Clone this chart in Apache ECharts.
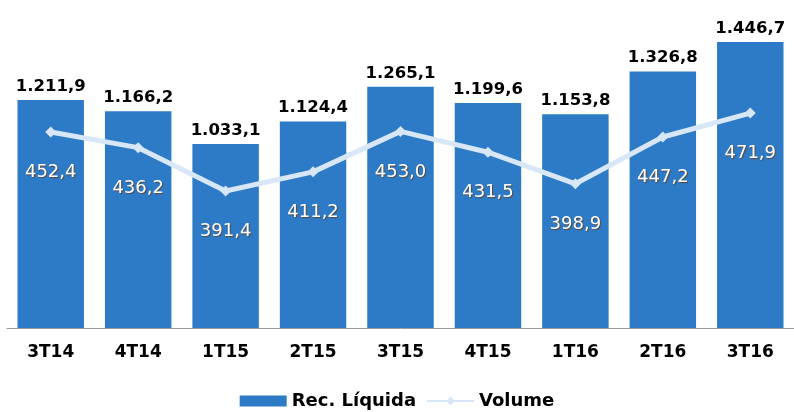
<!DOCTYPE html>
<html>
<head>
<meta charset="utf-8">
<script src="https://cdn.jsdelivr.net/npm/echarts@6/dist/echarts.min.js"></script>
<style>
  html, body { margin: 0; padding: 0; background: #fff; }
  #chart { width: 794px; height: 412px; }
</style>
</head>
<body>
<div id="chart"></div>
<script>
// trimestres
const quarters = ['3T14', '4T14', '1T15', '2T15', '3T15', '4T15', '1T16', '2T16', '3T16']
// Rec. Líquida (barras)
const recLiquida = [1211.9, 1166.2, 1033.1, 1124.4, 1265.1, 1199.6, 1153.8, 1326.8, 1446.7]
// Volume (linha, eixo secundario)
const volume = [452.4, 436.2, 391.4, 411.2, 453.0, 431.5, 398.9, 447.2, 471.9]

// formato pt-BR: 1.211,9
function fmtBR(v) {
  let parts = v.toFixed(1).split('.')
  let inteiro = parts[0].replace(/\B(?=(\d{3})+(?!\d))/g, '.')
  return inteiro + ',' + parts[1]
}

let myChart = echarts.init(document.getElementById('chart'))
let option = {
  backgroundColor: '#fff',
  animation: false,
  grid: {
    left: 7,
    right: -5,
    top: 20,
    bottom: 84
  },
  legend: {
    bottom: -3,
    left: 'center',
    itemGap: 10,
    itemWidth: 47,
    itemHeight: 11,
    textStyle: {
      fontFamily: 'DejaVu Sans',
      fontWeight: 'bold',
      fontSize: 18,
      color: '#000'
    },
    data: [
      { name: 'Rec. Líquida', icon: 'rect' },
      { name: 'Volume' }
    ]
  },
  xAxis: {
    type: 'category',
    data: quarters,
    axisLine: { lineStyle: { color: '#9a9a9a', width: 1 } },
    axisTick: { show: false },
    axisLabel: {
      margin: 16,
      fontFamily: 'DejaVu Sans',
      fontWeight: 'bold',
      fontSize: 17,
      color: '#000'
    }
  },
  yAxis: [
    { type: 'value', min: 287, max: 1536, show: false, splitLine: { show: false } },
    { type: 'value', min: 250, max: 568, show: false, splitLine: { show: false } }
  ],
  series: [
    {
      name: 'Rec. Líquida',
      type: 'bar',
      data: recLiquida,
      barCategoryGap: '24%',
      itemStyle: { color: '#2d7bc6' },
      label: {
        show: true,
        position: 'top',
        distance: 5,
        fontFamily: 'DejaVu Sans',
        fontWeight: 'bold',
        fontSize: 16.5,
        color: '#000',
        formatter: p => fmtBR(p.value)
      }
    },
    {
      name: 'Volume',
      type: 'line',
      yAxisIndex: 1,
      data: volume,
      z: 5,
      symbol: 'diamond',
      symbolSize: 11,
      lineStyle: { color: '#d7e7f7', width: 5 },
      itemStyle: { color: '#d7e7f7' },
      label: {
        show: true,
        position: 'bottom',
        distance: 26,
        fontFamily: 'DejaVu Sans',
        fontSize: 18,
        color: '#fff',
        textShadowColor: 'rgba(110,50,0,0.7)',
        textShadowBlur: 1,
        textShadowOffsetX: 1,
        textShadowOffsetY: 1,
        formatter: p => fmtBR(p.value)
      }
    }
  ]
}
myChart.setOption(option)
</script>
</body>
</html>
